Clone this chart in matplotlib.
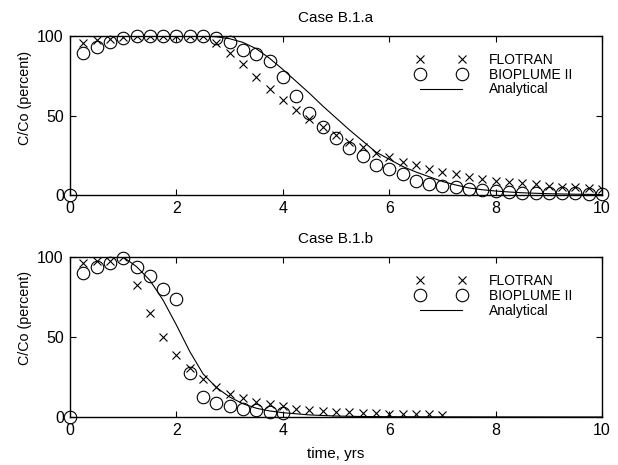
import matplotlib
matplotlib.use("Agg")
import matplotlib.pyplot as plt
import numpy as np

plt.rcParams['font.family'] = ['Liberation Sans', 'DejaVu Sans']

# ---------------- Case B.1.a ----------------
t_flo_a = [0.25, 0.5, 0.75, 1.0, 1.25, 1.5, 1.75, 2.0, 2.25, 2.5, 2.75, 3.0, 3.25, 3.5, 3.75,
           4.0, 4.25, 4.5, 4.75, 5.0, 5.25, 5.5, 5.75, 6.0, 6.25, 6.5, 6.75, 7.0, 7.25, 7.5,
           7.75, 8.0, 8.25, 8.5, 8.75, 9.0, 9.25, 9.5, 9.75, 10.0]
c_flo_a = [95.4, 97.5, 98, 99.5, 100, 100, 100, 100, 100, 100, 95.4, 89.5, 82.2, 74.4, 66.7,
           59.7, 53.5, 47.6, 43, 37.7, 33.5, 30, 26.6, 23.7, 20.5, 18.9, 16.4, 14.3, 13.2, 11.5,
           10.1, 9, 8.4, 7.3, 6.7, 5.9, 5.2, 4.8, 4.2, 3.6]

t_bio_a = [0.0, 0.25, 0.5, 0.75, 1.0, 1.25, 1.5, 1.75, 2.0, 2.25, 2.5, 2.75, 3.0, 3.25, 3.5, 3.75,
           4.0, 4.25, 4.5, 4.75, 5.0, 5.25, 5.5, 5.75, 6.0, 6.25, 6.5, 6.75, 7.0, 7.25, 7.5,
           7.75, 8.0, 8.25, 8.5, 8.75, 9.0, 9.25, 9.5, 9.75, 10.0]
c_bio_a = [0, 89.5, 93.3, 96.2, 98.5, 100, 100, 100, 100, 100, 100, 98.5, 96.4, 91.2, 88.7, 84.5,
           74, 62.3, 51.8, 43, 36, 29.3, 24.5, 18.9, 16.2, 13.2, 9, 6.7, 5.9, 4.8, 3.8,
           3.1, 2.5, 1.7, 1.5, 1.2, 1.0, 1.0, 1.0, 0.8, 0.8]

t_ana_a = [0.0, 2.5, 2.75, 3.0, 3.25, 3.5, 3.75, 4.0, 4.25, 4.5, 4.75, 5.0, 5.25, 5.5, 5.75,
           6.0, 6.25, 6.5, 6.75, 7.0, 7.25, 7.5, 7.75, 8.0, 8.25, 8.5, 9.0, 9.5, 10.0]
c_ana_a = [100, 100, 99.5, 98.3, 96, 92, 86, 79, 71.5, 64, 56, 48.5, 41, 34, 27,
           22.5, 18, 14.5, 11.5, 8.5, 6.3, 4.4, 3.3, 2.5, 1.9, 1.4, 0.8, 0.5, 0.3]

# ---------------- Case B.1.b ----------------
t_flo_b = [0.25, 0.5, 0.75, 1.0, 1.25, 1.5, 1.75, 2.0, 2.25, 2.5, 2.75, 3.0, 3.25, 3.5, 3.75,
           4.0, 4.25, 4.5, 4.75, 5.0, 5.25, 5.5, 5.75, 6.0, 6.25, 6.5, 6.75, 7.0]
c_flo_b = [96, 97.7, 97.7, 99.8, 82.5, 65.2, 50.2, 38.75, 30.4, 23.5, 18.5, 14.6, 11.7, 9.6, 7.9,
           6.9, 5, 4.4, 3.5, 2.9, 2.9, 2.5, 2.3, 1.9, 1.9, 1.7, 1.7, 1.5]

t_bio_b = [0.0, 0.25, 0.5, 0.75, 1.0, 1.25, 1.5, 1.75, 2.0, 2.25, 2.5, 2.75, 3.0, 3.25, 3.5,
           3.75, 4.0]
c_bio_b = [0, 89.8, 94, 96, 99.2, 93.5, 88.1, 79.8, 73.5, 27.7, 12.7, 8.5, 6.8, 5.1, 4.4,
           3.3, 2.7]

t_ana_b = [0.0, 1.0, 1.25, 1.5, 1.75, 2.0, 2.25, 2.5, 2.75, 3.0, 3.25, 3.5, 3.75, 4.0, 4.5,
           5.0, 5.5, 6.0, 7.0, 8.0, 10.0]
c_ana_b = [100, 100, 94, 85.5, 73, 57.5, 41, 27, 18.5, 12.5, 8.3, 5.5, 3.8, 2.7, 1.3,
           0.6, 0.3, 0.2, 0.1, 0.05, 0.0]

titles = ["Case B.1.a", "Case B.1.b"]
labels = ["FLOTRAN", "BIOPLUME II", "Analytical"]
xticks = [0, 2, 4, 6, 8, 10]
yticks = [0, 50, 100]

fig = plt.figure(figsize=(6.18, 4.65), dpi=100)
W, H = 618, 465
left, right = 70, 602
panels = [(36, 195), (257, 417)]
ylabel_y = [0.61, 0.62]

data = [
    (t_flo_a, c_flo_a, t_bio_a, c_bio_a, t_ana_a, c_ana_a),
    (t_flo_b, c_flo_b, t_bio_b, c_bio_b, t_ana_b, c_ana_b),
]

for i, (top, bot) in enumerate(panels):
    ax = fig.add_axes([left / W, 1 - bot / H, (right - left) / W, (bot - top) / H])
    tf, cf, tb, cb, ta, ca = data[i]
    ax.plot(tf, cf, linestyle='none', marker='x', ms=6, mew=0.8, color='black', label=labels[0])
    ax.plot(tb, cb, linestyle='none', marker='o', ms=9, mew=0.8, mfc='none', mec='black',
            label=labels[1], clip_on=False)
    ax.plot(ta, ca, '-', color='black', lw=0.8, label=labels[2])
    ax.set_xlim(0, 10)
    ax.set_ylim(0, 100)
    ax.set_xticks(xticks)
    ax.set_yticks(yticks)
    ax.tick_params(direction='in', top=True, right=True, length=4, width=0.8,
                   labelsize=11.5, pad=4.5)
    for s in ax.spines.values():
        s.set_linewidth(1.0)
    ax.set_title(titles[i], fontsize=11, pad=10)
    ax.set_ylabel("C/Co (percent)", fontsize=10.3)
    ax.yaxis.set_label_coords(-0.072, ylabel_y[i])
    if i == 1:
        ax.set_xlabel("time, yrs", fontsize=11, labelpad=6)
    ax.legend(loc='upper left', bbox_to_anchor=(0.651, 0.893), frameon=False,
              numpoints=2, handlelength=3.6, handletextpad=1.6, labelspacing=0.05,
              borderpad=0, borderaxespad=0, fontsize=10)

fig.savefig("out.png", dpi=100)
